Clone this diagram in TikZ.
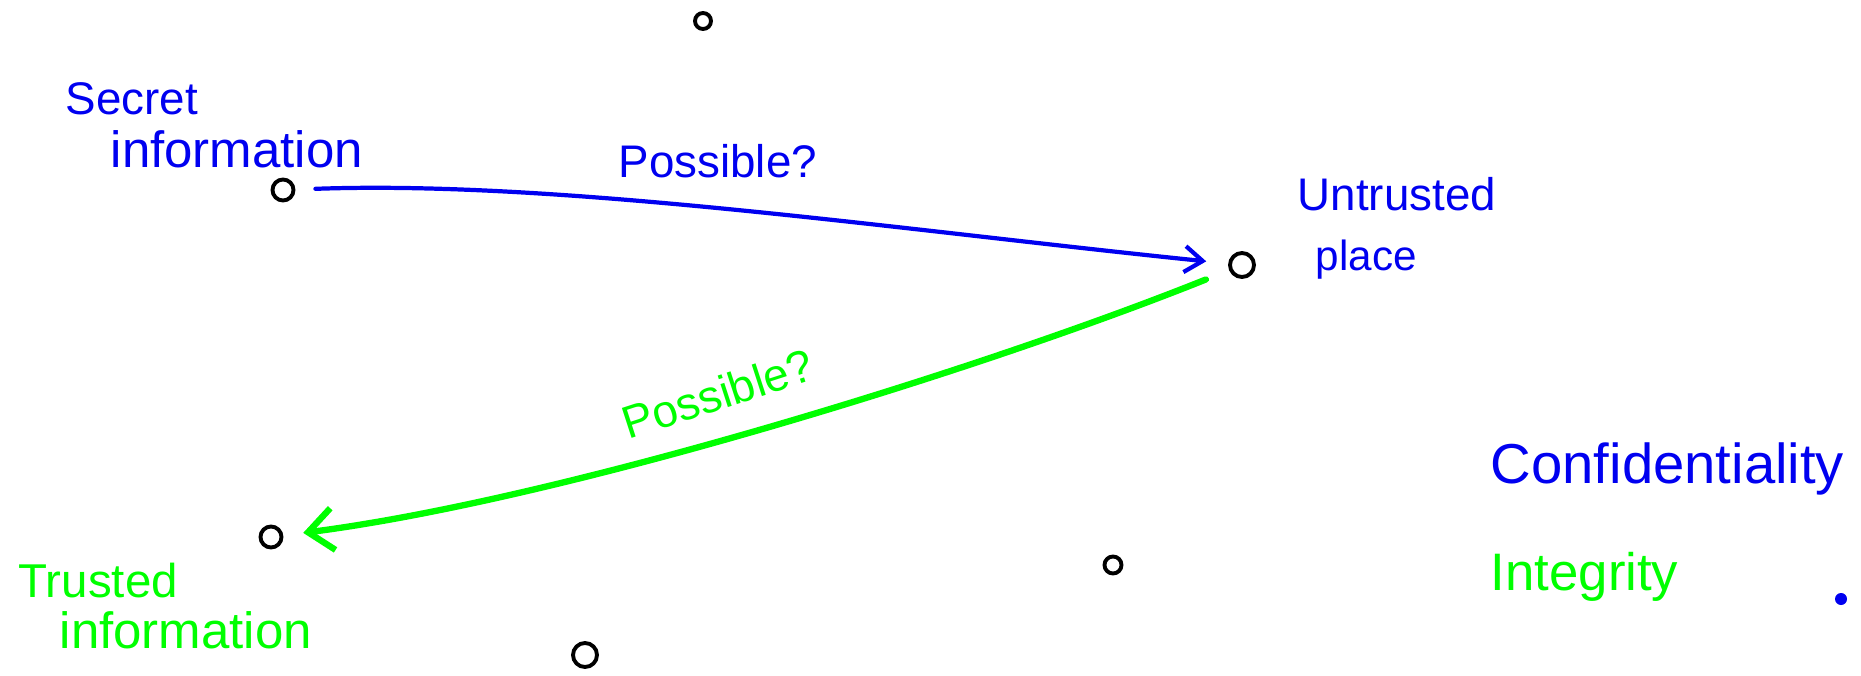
\documentclass[tikz,border=0pt]{standalone}
\usepackage{fontspec}
\setmainfont{Liberation Sans}
\usetikzlibrary{arrows.meta}

\definecolor{penblue}{RGB}{0,0,240}
\definecolor{pengreen}{RGB}{0,255,0}

\tikzset{
    pt/.style={draw, circle, line width=1.1pt, inner sep=0pt, minimum size=#1},
    pt/.default=0.21cm,
    lbl/.style={anchor=base west, inner sep=0pt, font=\fontsize{13}{15}\selectfont},
    biglbl/.style={lbl, font=\fontsize{16}{19}\selectfont},
}

\begin{document}
\begin{tikzpicture}[x=0.01cm, y=-0.01cm]
    \useasboundingbox (0,0) rectangle (1861,676);

    \node[pt=0.16cm] (p1) at (703,21) {};
    \node[pt] (secret) at (283,190) {};
    \node[pt=0.24cm] (untrusted) at (1242,265) {};
    \node[pt] (trusted) at (271,537) {};
    \node[pt=0.24cm] (p2) at (585,655) {};
    \node[pt=0.17cm] (p3) at (1113,565) {};
    \node[circle, fill=penblue, inner sep=0pt, minimum size=0.12cm] (dot) at (1841,599) {};

    \node[lbl, text=penblue] (secrettxt) at (65,115) {Secret};
    \node[lbl, text=penblue, font=\fontsize{14.5}{17}\selectfont] (secretinfo) at (110,167) {information};
    \node[lbl, text=penblue] (untrustedtxt) at (1297,210) {Untrusted};
    \node[lbl, text=penblue, font=\fontsize{12}{14}\selectfont] (placetxt) at (1315,270) {place};
    \node[lbl, text=penblue] (possblue) at (618,178) {Possible?};
    \node[lbl, text=pengreen, rotate=18] (possgreen) at (628,440) {Possible?};
    \node[lbl, text=pengreen, font=\fontsize{13.5}{16}\selectfont] (trustedtxt) at (18,597) {Trusted};
    \node[lbl, text=pengreen, font=\fontsize{14.5}{17}\selectfont] (trustedinfo) at (59,648) {information};
    \node[biglbl, text=penblue] (conf) at (1490,483) {Confidentiality};
    \node[biglbl, text=pengreen, font=\fontsize{15}{18}\selectfont] (integ) at (1490,590) {Integrity};

    \draw[penblue, line width=1.2pt, line cap=round,
        -{Straight Barb[length=0.18cm, width=0.26cm]},
        shorten <=0.2cm, shorten >=0.22cm]
        (secret) .. controls (560,180) and (900,230) .. (untrusted);
    \draw[pengreen, line width=1.8pt, line cap=round,
        -{Straight Barb[length=0.25cm, width=0.42cm]},
        shorten <=0.25cm, shorten >=0.2cm]
        (untrusted) .. controls (980,370) and (560,500) .. (trusted);
\end{tikzpicture}
\end{document}
